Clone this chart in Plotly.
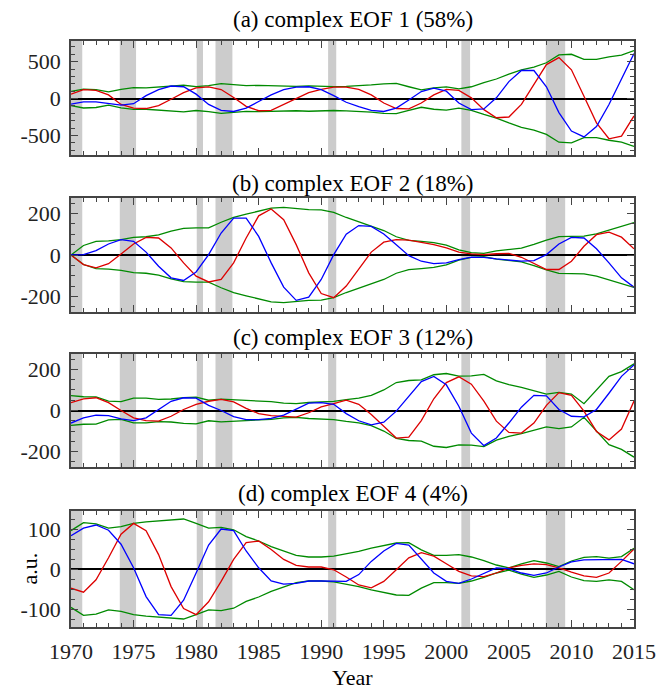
import plotly.graph_objects as go

years = list(range(1970, 2016))

# NBER recessions
rec_start = [1969.95, 1973.9, 1980.05, 1981.55, 1990.55, 2001.2, 2007.95]
rec_end = [1970.9, 1975.2, 1980.55, 1982.9, 1991.2, 2001.9, 2009.5]

# (a) complex EOF 1
a_blue = [-75, -45, -45, -70, -90, -70, 40, 120, 170, 160, 60, -80, -160, -175, -130, -40,
          50, 120, 155, 160, 120, 40, -50, -110, -160, -175, -130, -20, 95, 140, 100, -60,
          -150, -140, 10, 230, 380, 380, 160, -190, -440, -520, -380, -80, 260, 610]
a_red = [60, 120, 112, 50, -80, -130, -135, -95, -10, 80, 145, 157, 122, 15, -105, -165,
         -160, -80, 10, 80, 125, 155, 155, 125, 50, -60, -135, -140, -60, 50, 125, 110,
         10, -150, -260, -250, -80, 190, 460, 555, 390, 30, -330, -545, -510, -235]
a_amp = [96, 128, 121, 90, 125, 148, 145, 155, 172, 180, 162, 176, 201, 185, 175, 178,
         175, 165, 165, 172, 165, 162, 166, 172, 185, 200, 205, 160, 118, 145, 157, 130,
         160, 215, 265, 330, 390, 427, 485, 592, 600, 530, 530, 565, 590, 650]

# (b) complex EOF 2
b_blue = [0, 2, 21, 53, 74, 66, 14, -54, -110, -123, -82, 2, 106, 178, 178, 90,
          -38, -155, -219, -203, -118, 2, 100, 142, 138, 101, 50, -3, -30, -42, -38, -22,
          -10, -11, -19, -26, -30, -27, 2, 53, 85, 82, 30, -38, -110, -155]
b_red = [0, -46, -62, -42, 5, 53, 85, 82, 34, -38, -102, -130, -118, -38, 82, 189,
         222, 170, 50, -86, -186, -206, -150, -70, 14, 62, 74, 72, 62, 50, 34, 14,
         5, 2, 6, 8, -11, -42, -70, -70, -30, 42, 98, 110, 86, 30]
b_amp = [0, 46, 66, 68, 74, 85, 88, 97, 115, 128, 131, 131, 158, 182, 197, 212,
         226, 230, 224, 219, 218, 206, 181, 160, 140, 118, 88, 71, 66, 60, 48, 25,
         11, 8, 20, 28, 33, 51, 72, 89, 90, 91, 102, 120, 140, 156]

# (c) complex EOF 3
c_blue = [-61, -36, -23, -25, -41, -49, -36, 5, 45, 62, 60, 25, 0, -30, -44, -44,
          -38, -22, 5, 36, 38, 30, -15, -50, -70, -57, -3, 71, 141, 166, 125, 21,
          -110, -171, -134, -61, 16, 74, 71, 5, -28, -31, 5, 84, 166, 222]
c_red = [38, 57, 62, 38, 0, -36, -49, -52, -28, 5, 30, 45, 54, 42, 10, -15,
         -25, -28, -32, -11, 18, 34, 50, 30, -20, -77, -134, -130, -49, 57, 136, 164,
         128, 46, -52, -107, -110, -61, 25, 87, 74, -3, -102, -143, -90, 46]
c_amp = [72, 67, 66, 46, 43, 60, 60, 54, 56, 63, 65, 50, 55, 52, 46, 46,
         43, 36, 33, 39, 43, 44, 53, 60, 74, 100, 136, 146, 149, 174, 180, 167,
         169, 176, 144, 126, 113, 97, 80, 88, 80, 33, 102, 166, 189, 227]

# (d) complex EOF 4
d_blue = [83, 102, 110, 97, 62, 3, -69, -114, -116, -78, -10, 60, 100, 96, 45, 3,
          -30, -38, -36, -30, -30, -31, -31, -14, 19, 45, 64, 60, 24, -10, -31, -36,
          -25, -10, 3, 1, -10, -16, -10, 5, 18, 23, 23, 24, 24, 13]
d_red = [-48, -58, -27, 28, 87, 114, 96, 36, -44, -99, -114, -82, -31, 24, 66, 70,
         49, 24, 9, 5, 5, -2, -20, -40, -47, -31, -2, 28, 41, 32, 13, -6,
         -17, -19, -10, 3, 9, 13, 11, 3, -8, -17, -21, -10, 19, 50]
d_amp = [96, 116, 113, 102, 106, 114, 118, 120, 123, 125, 114, 102, 104, 98, 81, 70,
         56, 44, 34, 30, 30, 32, 38, 44, 52, 58, 65, 66, 48, 34, 34, 36,
         30, 21, 10, 3, 13, 21, 15, 6, 20, 29, 31, 27, 31, 52]

titles = ["(a) complex EOF 1 (58%)", "(b) complex EOF 2 (18%)",
          "(c) complex EOF 3 (12%)", "(d) complex EOF 4 (4%)"]
x_ticks = [1970, 1975, 1980, 1985, 1990, 1995, 2000, 2005, 2010, 2015]
y_ticks = [[-500, 0, 500], [-200, 0, 200], [-200, 0, 200], [-100, 0, 100]]
y_minor = [100, 50, 50, 25]
y_ranges = [[-765, 780], [-275, 275], [-275, 275], [-145, 145]]

panels = [(a_blue, a_red, a_amp), (b_blue, b_red, b_amp),
          (c_blue, c_red, c_amp), (d_blue, d_red, d_amp)]

FONT = "Liberation Serif"
FRAME = "#444444"
OFF = 8                # page body margin
W, H = 670 - OFF, 691 - OFF
LEFT, RIGHT = 64 - OFF, 634 - OFF        # plot area in figure pixels
TOP, BOTTOM = 41 - OFF, 627 - OFF
PH = BOTTOM - TOP
PW = RIGHT - LEFT


def py2paper(py):
    return (BOTTOM - (py - OFF)) / PH


def px2paper(px):
    return ((px - OFF) - LEFT) / PW


frames = [(41, 155), (198, 312), (354, 467), (511, 627)]
title_y = [19, 183, 337, 493]

fig = go.Figure()
layout = {}
for i, (blue, red, amp) in enumerate(panels):
    n = i + 1
    xa = "x" if n == 1 else f"x{n}"
    ya = "y" if n == 1 else f"y{n}"
    neg = [-v for v in amp]
    fig.add_trace(go.Scatter(x=years, y=amp, mode="lines", line=dict(color="#008a00", width=1.3),
                             xaxis=xa, yaxis=ya, showlegend=False, hoverinfo="skip"))
    fig.add_trace(go.Scatter(x=years, y=neg, mode="lines", line=dict(color="#008a00", width=1.3),
                             xaxis=xa, yaxis=ya, showlegend=False, hoverinfo="skip"))
    fig.add_trace(go.Scatter(x=years, y=red, mode="lines", line=dict(color="#dd0000", width=1.3),
                             xaxis=xa, yaxis=ya, showlegend=False))
    fig.add_trace(go.Scatter(x=years, y=blue, mode="lines", line=dict(color="#0000ff", width=1.3),
                             xaxis=xa, yaxis=ya, showlegend=False))

    top, bot = frames[i]
    kx = "xaxis" if n == 1 else f"xaxis{n}"
    ky = "yaxis" if n == 1 else f"yaxis{n}"
    layout[kx] = dict(
        domain=[0, 1], anchor=ya, range=[1970, 2015],
        tickmode="array", tickvals=x_ticks, ticktext=[str(t) for t in x_ticks],
        showticklabels=(n == 4), ticks="inside", ticklen=7, tickwidth=1.3, tickcolor=FRAME,
        minor=dict(tickmode="linear", tick0=1970, dtick=1, ticks="inside", ticklen=4,
                   tickwidth=1.1, tickcolor=FRAME),
        showline=True, linecolor=FRAME, linewidth=1.6, mirror="allticks",
        showgrid=False, zeroline=False,
        tickfont=dict(family=FONT, size=22, color="#222222"),
        ticklabelstandoff=4,
    )
    if n > 1:
        layout[kx]["matches"] = "x"
    layout[ky] = dict(
        domain=[py2paper(bot), py2paper(top)], anchor=xa, range=y_ranges[i],
        tickmode="array", tickvals=y_ticks[i], ticktext=[str(t) for t in y_ticks[i]],
        ticks="inside", ticklen=7, tickwidth=1.3, tickcolor=FRAME,
        minor=dict(tickmode="linear", tick0=0, dtick=y_minor[i], ticks="inside", ticklen=4,
                   tickwidth=1.1, tickcolor=FRAME),
        showline=True, linecolor=FRAME, linewidth=1.6, mirror="allticks",
        showgrid=False, zeroline=True, zerolinecolor="black", zerolinewidth=1.5,
        tickfont=dict(family=FONT, size=22, color="#222222"),
        ticklabelstandoff=4,
    )

shapes = []
for n in range(1, 5):
    xa = "x" if n == 1 else f"x{n}"
    ya = "y" if n == 1 else f"y{n}"
    for s, e in zip(rec_start, rec_end):
        shapes.append(dict(type="rect", xref=xa, yref=f"{ya} domain", x0=max(s, 1970), x1=e,
                           y0=0, y1=1, fillcolor="#cccccc", line=dict(width=0), layer="below"))

annotations = []
for i, t in enumerate(titles):
    annotations.append(dict(text=t, xref="paper", yref="paper", x=0.5, y=py2paper(title_y[i]),
                            xanchor="center", yanchor="middle", showarrow=False,
                            font=dict(family=FONT, size=23, color="black")))
annotations.append(dict(text="Year", xref="paper", yref="paper", x=0.5, y=py2paper(677),
                        xanchor="center", yanchor="middle", showarrow=False,
                        font=dict(family=FONT, size=22, color="black")))
annotations.append(dict(text="a.u.", xref="paper", yref="paper", x=px2paper(21),
                        y=py2paper(569), xanchor="center", yanchor="middle", showarrow=False,
                        textangle=-90, font=dict(family=FONT, size=22, color="black")))

fig.update_layout(
    width=W, height=H,
    margin=dict(l=LEFT, r=W - RIGHT, t=TOP, b=H - BOTTOM),
    paper_bgcolor="white", plot_bgcolor="white",
    font=dict(family=FONT, size=22, color="#222222"),
    shapes=shapes, annotations=annotations,
    **layout,
)

fig.write_html("out.html")
